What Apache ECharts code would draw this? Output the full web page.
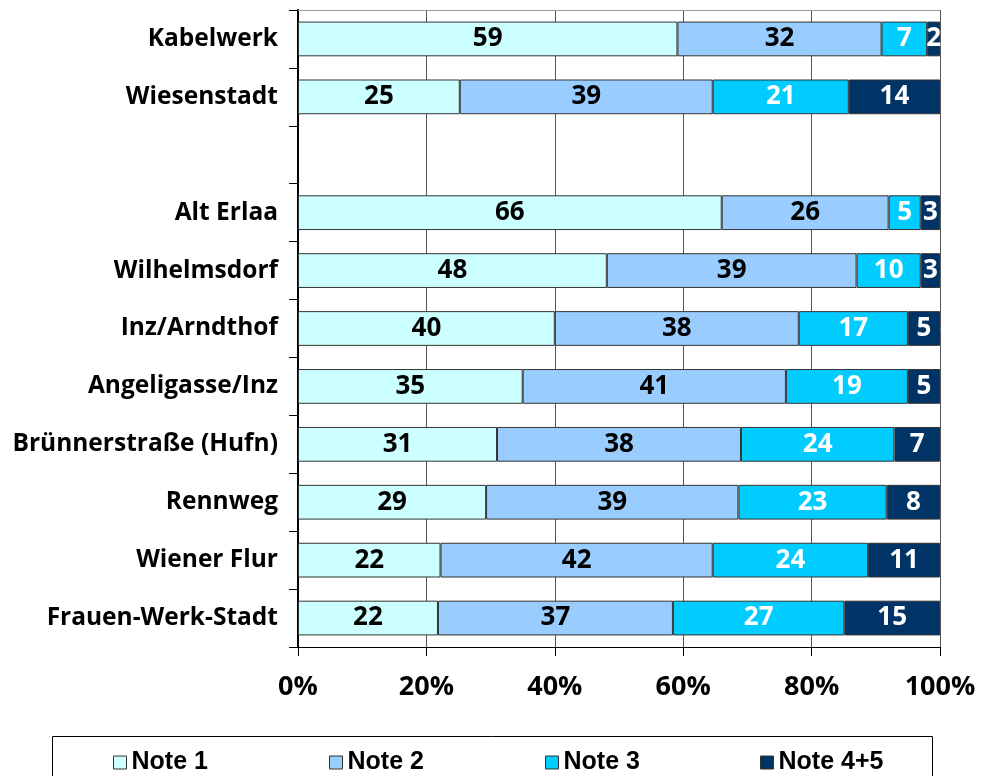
<!DOCTYPE html>
<html><head><meta charset="utf-8">
<script src="https://cdn.jsdelivr.net/npm/echarts@6/dist/echarts.min.js"></script>
<style>html,body{margin:0;padding:0;background:#fff}#c{width:981px;height:776px}</style>
</head><body><div id="c"></div>
<script>
const categories = ['Kabelwerk','Wiesenstadt','','Alt Erlaa','Wilhelmsdorf','Inz/Arndthof','Angeligasse/Inz','Brünnerstraße (Hufn)','Rennweg','Wiener Flur','Frauen-Werk-Stadt'];
const note1 = [59.1, 25.2, null, 66.0, 48.1, 40.0, 35.0, 31.0, 29.3, 22.2, 21.8];
const note2 = [31.8, 39.4, null, 26.0, 38.9, 38.0, 41.0, 38.0, 39.3, 42.4, 36.6];
const note3 = [7.1, 21.2, null, 5.0, 10.0, 17.0, 19.0, 23.9, 23.1, 24.2, 26.7];
const note45 = [2.0, 14.2, null, 3.0, 3.0, 5.0, 5.0, 7.1, 8.3, 11.2, 14.9];
const seriesNames = ['Note 1','Note 2','Note 3','Note 4+5'];
const xTicks = [0, 20, 40, 60, 80, 100];

const colors = ['#CCFFFF','#99CCFF','#00CCFF','#003366'];
const labelColors = ['#000','#000','#fff','#fff'];
const FONT = '"Open Sans", "Noto Sans", sans-serif';
const chart = echarts.init(document.getElementById('c'));
const datas = [note1, note2, note3, note45];
const series = datas.map((d, i) => ({
  name: seriesNames[i], type: 'bar', stack: 'all', data: d, yAxisIndex: 0, xAxisIndex: 0,
  barCategoryGap: '40%',
  itemStyle: {color: colors[i], borderColor: '#333', borderWidth: 1},
  label: {show: true, position: 'inside', color: labelColors[i], fontFamily: FONT, fontWeight: 'bold', fontSize: 26,
    formatter: p => p.value == null ? '' : Math.round(p.value)},
  emphasis: {disabled: true}
}));
const legendLefts = [108, 324, 540, 755];
chart.setOption({
  animation: false,
  color: colors,
  grid: {left: 298, right: 41, top: 10, bottom: 129, containLabel: false},
  legend: seriesNames.map((n, i) => ({
    data: [n], left: legendLefts[i], top: 745, itemWidth: 13, itemHeight: 13, itemGap: 10,
    icon: 'rect', itemStyle: {borderColor: '#333', borderWidth: 1},
    textStyle: {fontFamily: '"Liberation Sans", sans-serif', fontWeight: 'bold', fontSize: 25, color: '#000'}
  })),
  graphic: [{type: 'rect', shape: {x: 52.5, y: 736.5, width: 880, height: 60}, style: {fill: 'none', stroke: '#000', lineWidth: 1}}],
  xAxis: [{
    type: 'value', min: xTicks[0], max: xTicks[xTicks.length-1], interval: 20,
    axisLine: {show: true, lineStyle: {color: '#000', width: 1}},
    axisTick: {show: true, length: 9, lineStyle: {color: '#000'}},
    splitLine: {show: true, lineStyle: {color: '#555', width: 1}},
    axisLabel: {formatter: '{value}%', fontFamily: FONT, fontWeight: 'bold', fontSize: 27, color: '#000', margin: 27}
  }, {
    type: 'value', position: 'top', min: 0, max: 100,
    axisLine: {show: true, lineStyle: {color: '#999', width: 1}},
    axisTick: {show: false}, axisLabel: {show: false}, splitLine: {show: false}
  }],
  yAxis: [{
    type: 'category', data: categories, inverse: true,
    axisLine: {show: true, lineStyle: {color: '#000', width: 1}},
    axisTick: {show: true, length: 9, lineStyle: {color: '#000'}},
    axisLabel: {fontFamily: FONT, fontWeight: 'bold', fontSize: 24.5, color: '#000', margin: 20}
  }, {
    type: 'category', data: categories, inverse: true, position: 'right',
    axisLine: {show: true, lineStyle: {color: '#000', width: 2}},
    axisTick: {show: false}, axisLabel: {show: false}, splitLine: {show: false}
  }],
  series: series
});
</script></body></html>
